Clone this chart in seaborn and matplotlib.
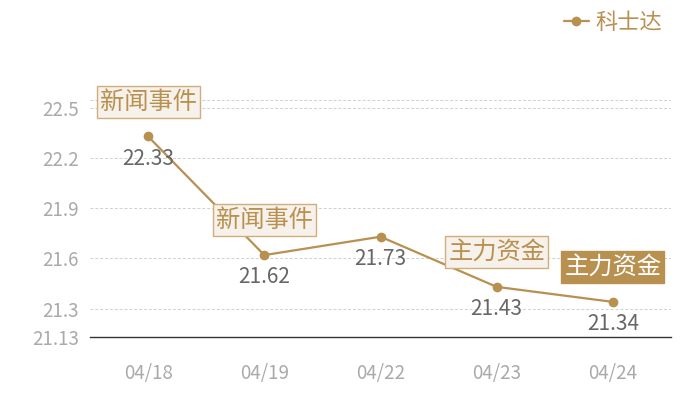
import matplotlib
matplotlib.use("Agg")
import matplotlib.pyplot as plt
import seaborn as sns
import pandas as pd

dates = ["04/18", "04/19", "04/22", "04/23", "04/24"]
prices = [22.33, 21.62, 21.73, 21.43, 21.34]
events = ["新闻事件", "新闻事件", None, "主力资金", "主力资金"]
event_filled = [False, False, False, False, True]
series_name = "科士达"
yticks = [21.13, 21.3, 21.6, 21.9, 22.2, 22.5]
ytick_labels = ["21.13", "21.3", "21.6", "21.9", "22.2", "22.5"]

sns.set_theme(style="white")
plt.rcParams['font.family'] = ['Noto Sans CJK SC', 'DejaVu Sans']

gold = "#b8904f"
df = pd.DataFrame({"date": dates, "price": prices, "x": range(len(dates))})

fig = plt.figure(figsize=(7, 4), dpi=100)
ax = fig.add_axes([90/700, 1-337/400, 581/700, (337-100)/400])

sns.lineplot(data=df, x="x", y="price", ax=ax, color=gold, lw=1.6,
             marker="o", markersize=7, markeredgewidth=0, label=series_name)

ax.set_xlim(-0.5, len(dates)-0.5)
ax.set_ylim(21.13, 22.548)
ax.set_yticks(yticks)
ax.set_yticklabels(ytick_labels)
ax.set_xticks(range(len(dates)))
ax.set_xticklabels(dates)
for t in yticks[1:] + [22.548]:
    ax.axhline(t, color="#d0d0d0", lw=0.7, ls=(0, (3, 2)), zorder=0)
for s in ["top", "right", "left"]:
    ax.spines[s].set_visible(False)
ax.spines["bottom"].set_color("#333333")
ax.spines["bottom"].set_linewidth(1.0)
ax.tick_params(axis="both", length=0, colors="#aaaaaa", labelsize=13.5)
ax.tick_params(axis="x", pad=19)
ax.tick_params(axis="y", pad=8)
ax.set_xlabel("")
ax.set_ylabel("")

for i, (p, ev, filled) in enumerate(zip(prices, events, event_filled)):
    ax.annotate(f"{p:.2f}", (i, p), xytext=(0, -16), textcoords="offset points",
                ha="center", va="center", fontsize=15, color="#666666")
    if ev:
        if filled:
            bb = dict(boxstyle="square,pad=0.12", fc=gold, ec=gold, lw=1)
            tc = "white"
        else:
            bb = dict(boxstyle="square,pad=0.12", fc="#f6f1ea", ec="#cfae7c", lw=1)
            tc = gold
        ax.annotate(ev, (i, p), xytext=(0, 25), textcoords="offset points",
                    ha="center", va="center", fontsize=17.5, color=tc, bbox=bb)

leg = ax.legend(loc="upper right", bbox_to_anchor=(1.0, 1.415),
                frameon=False, fontsize=16, handlelength=1.1, handletextpad=0.3,
                borderaxespad=0)
for t in leg.get_texts():
    t.set_color(gold)

fig.savefig("out.png", dpi=100)
